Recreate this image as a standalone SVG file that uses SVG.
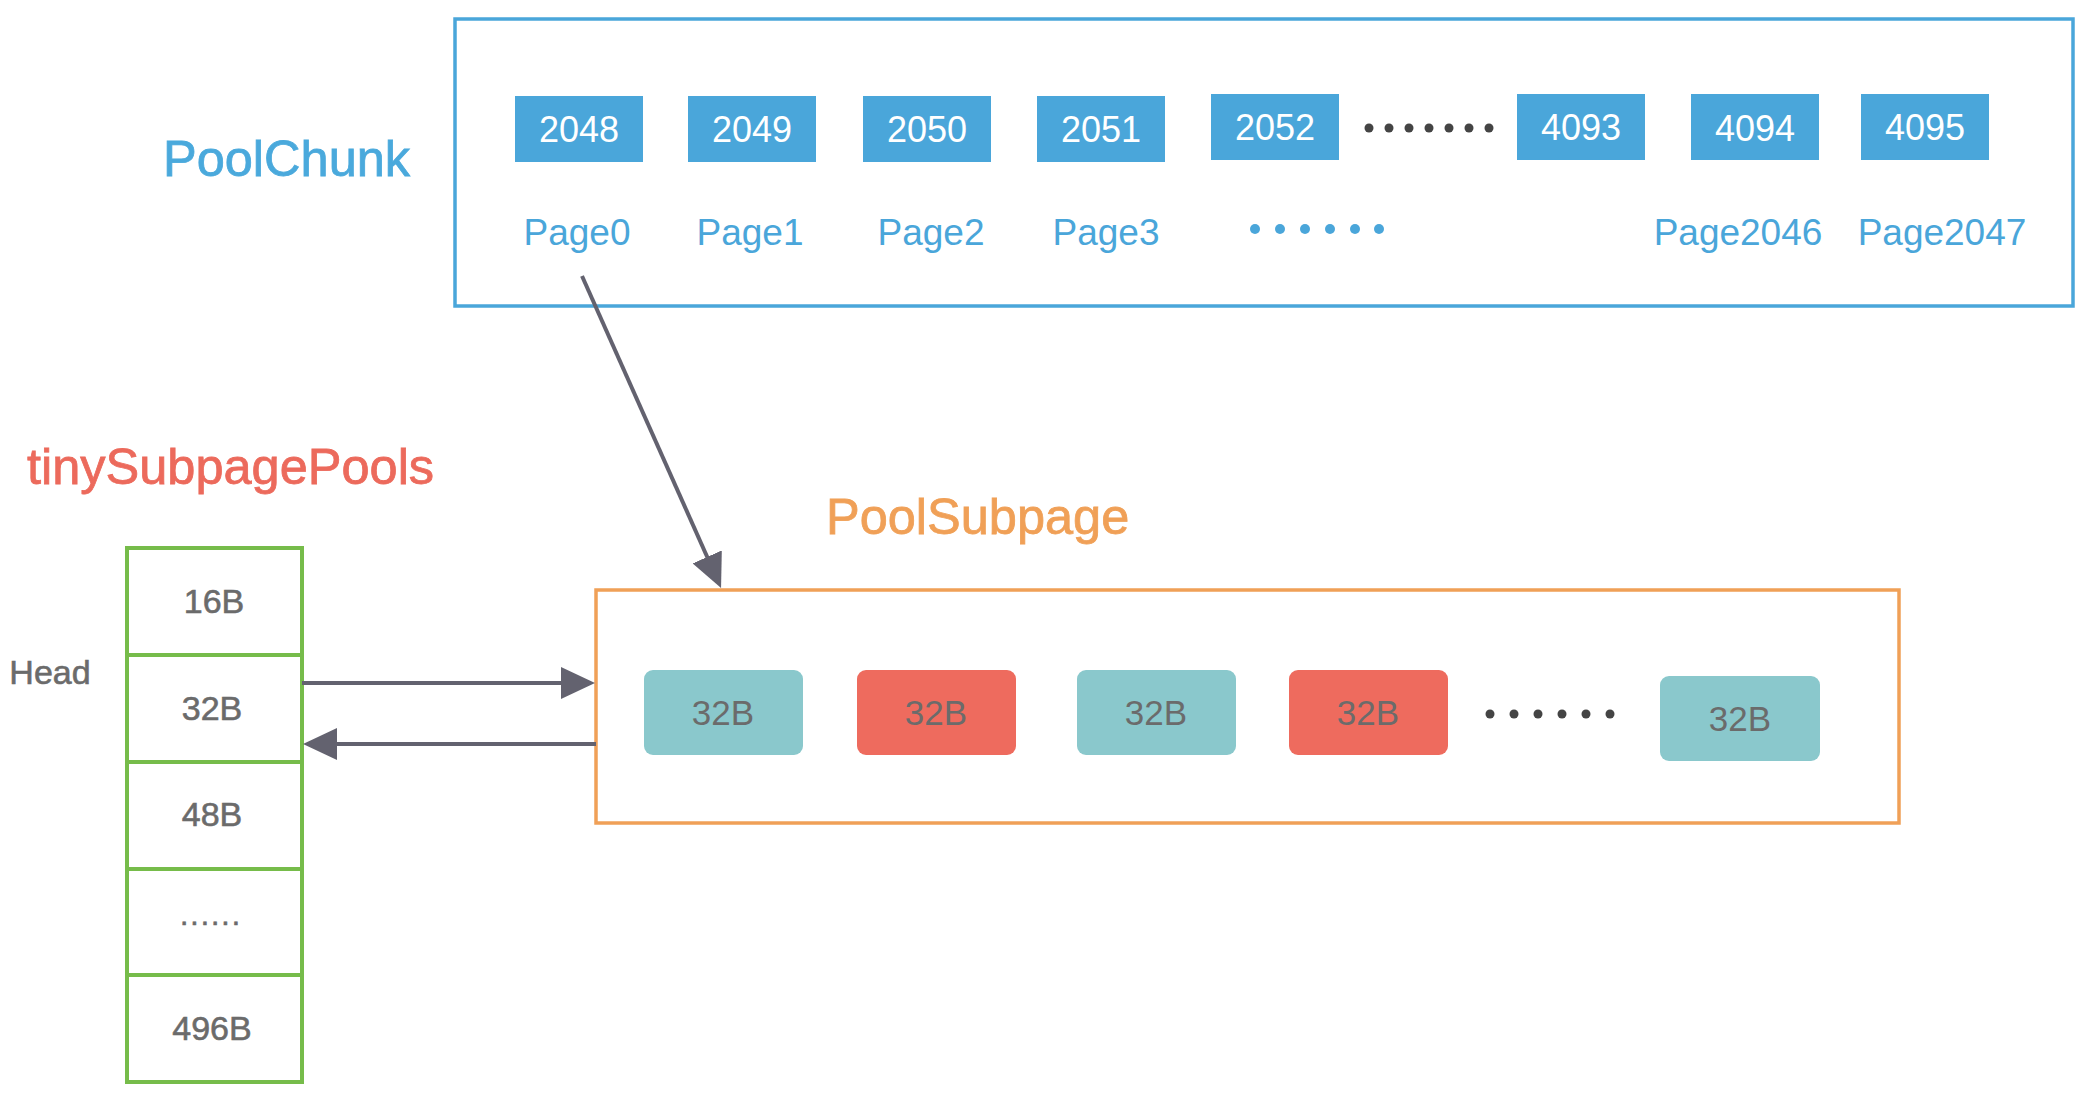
<svg xmlns="http://www.w3.org/2000/svg" width="2092" height="1096" viewBox="0 0 2092 1096">
<style>
text{font-family:"Liberation Sans",Arial,sans-serif}
.title{font-size:50.5px;stroke-width:0.8}
.num{font-size:36px;fill:#ffffff;text-anchor:middle}
.page{font-size:37px;fill:#4aa6da;text-anchor:middle}
.pbox{fill:#4aa6da}
.gray{fill:#6b6b6b;text-anchor:middle}
.tcell{stroke:#6b6b6b;stroke-width:0.6}
.cell{fill:none;stroke:#76bc4a;stroke-width:4}
.slot{stroke:none}
.teal{fill:#8ac8cc}
.red{fill:#ee6b5e}
.conn{stroke:#63626f;stroke-width:4;fill:none}
</style>
<defs>
<marker id="ah" viewBox="0 0 34 32" markerWidth="34" markerHeight="32" refX="14" refY="16" orient="auto" markerUnits="userSpaceOnUse">
<path d="M0,0 L34,16 L0,32 z" fill="#63626f"/>
</marker>
</defs>
<rect width="2092" height="1096" fill="#ffffff"/>

<g id="poolchunk">
<rect x="455" y="19" width="1618" height="287" fill="none" stroke="#4aa6da" stroke-width="3.5"/>
<text class="title" x="163" y="176" fill="#4aa9dc" stroke="#4aa9dc">PoolChunk</text>
<rect class="pbox" x="515" y="96" width="128" height="66"/><text class="num" x="579" y="142">2048</text>
<rect class="pbox" x="688" y="96" width="128" height="66"/><text class="num" x="752" y="142">2049</text>
<rect class="pbox" x="863" y="96" width="128" height="66"/><text class="num" x="927" y="142">2050</text>
<rect class="pbox" x="1037" y="96" width="128" height="66"/><text class="num" x="1101" y="142">2051</text>
<rect class="pbox" x="1211" y="94" width="128" height="66"/><text class="num" x="1275" y="140">2052</text>
<g fill="#444444">
<circle cx="1369" cy="128" r="4.5"/><circle cx="1389" cy="128" r="4.5"/><circle cx="1409" cy="128" r="4.5"/><circle cx="1429" cy="128" r="4.5"/><circle cx="1449" cy="128" r="4.5"/><circle cx="1469" cy="128" r="4.5"/><circle cx="1489" cy="128" r="4.5"/>
</g>
<rect class="pbox" x="1517" y="94" width="128" height="66"/><text class="num" x="1581" y="140">4093</text>
<rect class="pbox" x="1691" y="94" width="128" height="66"/><text class="num" x="1755" y="141">4094</text>
<rect class="pbox" x="1861" y="94" width="128" height="66"/><text class="num" x="1925" y="140">4095</text>
<text class="page" x="577" y="245">Page0</text>
<text class="page" x="750" y="245">Page1</text>
<text class="page" x="931" y="245">Page2</text>
<text class="page" x="1106" y="245">Page3</text>
<g fill="#4aa6da">
<circle cx="1255" cy="229" r="5"/><circle cx="1280" cy="229" r="5"/><circle cx="1305" cy="229" r="5"/><circle cx="1330" cy="229" r="5"/><circle cx="1355" cy="229" r="5"/><circle cx="1379" cy="229" r="5"/>
</g>
<text class="page" x="1738" y="245">Page2046</text>
<text class="page" x="1942" y="245">Page2047</text>
</g>

<g id="tinySubpagePools">
<text class="title" x="27" y="484" fill="#ec6a5c" stroke="#ec6a5c">tinySubpagePools</text>
<text class="tcell" x="50" y="684" font-size="34" fill="#6b6b6b" text-anchor="middle">Head</text>
<rect class="cell" x="127" y="548" width="175" height="107"/>
<rect class="cell" x="127" y="655" width="175" height="107"/>
<rect class="cell" x="127" y="762" width="175" height="107"/>
<rect class="cell" x="127" y="869" width="175" height="106"/>
<rect class="cell" x="127" y="975" width="175" height="107"/>
<text class="gray tcell" x="214" y="613" font-size="34">16B</text>
<text class="gray tcell" x="212" y="720" font-size="34">32B</text>
<text class="gray tcell" x="212" y="826" font-size="34">48B</text>
<text class="gray tcell" x="211" y="925" font-size="30" letter-spacing="2">......</text>
<text class="gray tcell" x="212" y="1040" font-size="34">496B</text>
</g>

<g id="poolsubpage">
<text class="title" x="826" y="534" fill="#f0a057" stroke="#f0a057">PoolSubpage</text>
<rect x="596" y="590" width="1303" height="233" fill="none" stroke="#f0a057" stroke-width="3.5"/>
<rect class="slot teal" x="644" y="670" width="159" height="85" rx="9"/><text class="gray" x="723" y="725" font-size="35">32B</text>
<rect class="slot red" x="857" y="670" width="159" height="85" rx="9"/><text class="gray" x="936" y="725" font-size="35">32B</text>
<rect class="slot teal" x="1077" y="670" width="159" height="85" rx="9"/><text class="gray" x="1156" y="725" font-size="35">32B</text>
<rect class="slot red" x="1289" y="670" width="159" height="85" rx="9"/><text class="gray" x="1368" y="725" font-size="35">32B</text>
<g fill="#444444">
<circle cx="1490" cy="714" r="4.5"/><circle cx="1514" cy="714" r="4.5"/><circle cx="1538" cy="714" r="4.5"/><circle cx="1562" cy="714" r="4.5"/><circle cx="1586" cy="714" r="4.5"/><circle cx="1610" cy="714" r="4.5"/>
</g>
<rect class="slot teal" x="1660" y="676" width="160" height="85" rx="9"/><text class="gray" x="1740" y="731" font-size="35">32B</text>
</g>

<g id="connectors">
<line class="conn" x1="582" y1="276" x2="712.9" y2="569.7" marker-end="url(#ah)"/>
<line class="conn" x1="302" y1="683" x2="575" y2="683" marker-end="url(#ah)"/>
<line class="conn" x1="596" y1="744" x2="323" y2="744" marker-end="url(#ah)"/>
</g>
</svg>
